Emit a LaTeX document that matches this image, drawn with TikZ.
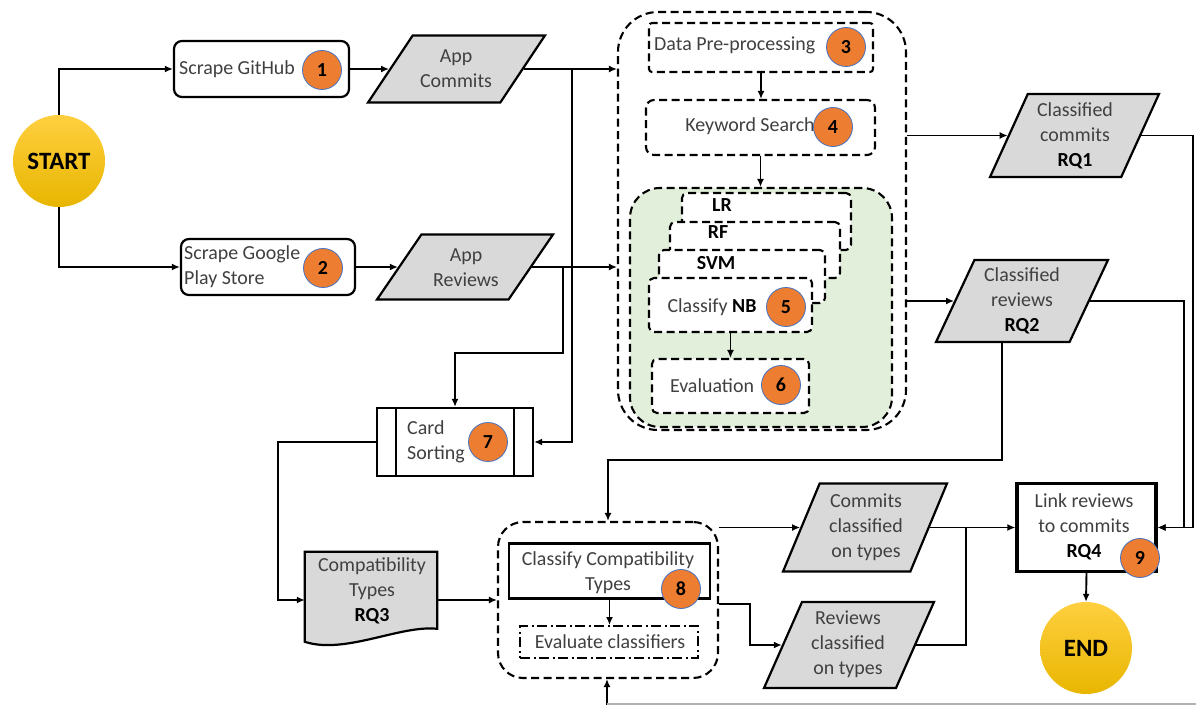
\documentclass[tikz,border=0pt]{standalone}
\usepackage{fontspec}
\setmainfont{Carlito}
\usetikzlibrary{arrows.meta,shapes.geometric,calc}
\definecolor{txt}{RGB}{64,64,64}
\definecolor{grayf}{RGB}{217,217,217}
\definecolor{greenf}{RGB}{226,239,218}
\definecolor{orangeb}{RGB}{237,125,49}
\definecolor{blueb}{RGB}{68,114,196}
\definecolor{goldtop}{RGB}{255,207,64}
\definecolor{goldbot}{RGB}{232,182,0}
\begin{document}
\begin{tikzpicture}[x=1bp,y=-1bp,
 lbl/.style={font=\fontsize{20}{25}\selectfont, text=txt, inner sep=0pt, align=center},
 blbl/.style={font=\fontsize{20}{25}\selectfont\bfseries, text=black, inner sep=0pt},
 arr/.style={line width=1.9bp, -{Latex[length=8bp,width=7bp]}},
 conn/.style={line width=1.9bp},
 procbox/.style={draw, line width=2.2bp, rounded corners=8bp, inner sep=0pt},
 dbox/.style={draw, line width=2.1bp, dash pattern=on 8bp off 4.5bp, inner sep=0pt},
 cardb/.style={dbox, fill=white, rounded corners=5bp},
 paraA/.style={trapezium, trapezium stretches=true, trapezium left angle=63, trapezium right angle=117, draw, fill=grayf, line width=2.2bp, inner sep=2bp},
 paraB/.style={trapezium, trapezium stretches=true, trapezium left angle=68, trapezium right angle=112, draw, fill=grayf, line width=2.2bp, inner sep=2bp},
 badge/.style={circle, fill=orangeb, draw=blueb, line width=0.8bp, minimum size=39bp, inner sep=0pt, font=\fontsize{20}{24}\selectfont\bfseries, text=black},
 term/.style={circle, minimum size=92bp, top color=goldtop, bottom color=goldbot, inner sep=0pt, font=\fontsize{25}{30}\selectfont\bfseries, text=black}
]
\fill[white] (0,0) rectangle (1196,705);
\useasboundingbox (0,0) rectangle (1196,705);

% start and scraping
\node[term] (start) at (59,161) {START};
\node[procbox, minimum width=175bp, minimum height=56bp] (gh) at (261.5,69) {};
\node[lbl, anchor=west] (ghl) at (179,69) {Scrape GitHub};
\node[badge] (b1) at (322,70) {1};
\node[paraA, minimum width=177bp, minimum height=67bp] (acom) at (456.5,69) {};
\node[lbl] (acoml) at (456,69) {App\\Commits};
\node[procbox, minimum width=174bp, minimum height=56bp] (gps) at (268,267) {};
\node[lbl, anchor=west, align=left] (gpsl) at (184,267) {Scrape Google\\Play Store};
\node[badge] (b2) at (323,268) {2};
\node[paraA, minimum width=176bp, minimum height=65bp] (arev) at (465,267) {};
\node[lbl] (arevl) at (466,268) {App\\Reviews};

% processing block
\node[dbox, rounded corners=40bp, minimum width=288bp, minimum height=418bp] (prep) at (762,221) {};
\node[dbox, rounded corners=3bp, minimum width=224bp, minimum height=49bp] (dp) at (761,47.5) {};
\node[lbl, anchor=west] (dpl) at (654,45) {Data Pre-processing};
\node[badge] (b3) at (846,47) {3};
\node[dbox, rounded corners=8bp, minimum width=229bp, minimum height=55bp] (kw) at (760.5,127.5) {};
\node[lbl] (kwl) at (750,126) {Keyword Search};
\node[badge] (b4) at (833,127) {4};
\node[dbox, fill=greenf, rounded corners=30bp, minimum width=262bp, minimum height=239bp] (grn) at (761,307.5) {};
\node[cardb, minimum width=169bp, minimum height=57bp] (lr) at (766.5,221.5) {};
\node[blbl] (lrl) at (722,205) {LR};
\node[cardb, minimum width=170bp, minimum height=56bp] (rf) at (755,250) {};
\node[blbl] (rfl) at (718,232) {RF};
\node[cardb, minimum width=166bp, minimum height=53bp] (svm) at (742,276.5) {};
\node[blbl] (svml) at (716,263) {SVM};
\node[cardb, minimum width=163bp, minimum height=54bp] (nb) at (730.5,305) {};
\node[lbl] (nbl) at (712,307) {Classify \textbf{\color{black}NB}};
\node[badge] (b5) at (786,307) {5};
\node[cardb, minimum width=157bp, minimum height=54bp] (ev) at (730.5,386) {};
\node[lbl] (evl) at (712,386) {Evaluation};
\node[badge] (b6) at (781,385) {6};

% classified outputs
\node[paraB, minimum width=169bp, minimum height=83bp] (c1) at (1074.5,135.5) {};
\node[lbl] (c1l) at (1075,136) {Classified\\commits\\\textbf{\color{black}RQ1}};
\node[paraB, minimum width=172bp, minimum height=82bp] (c2) at (1022,301) {};
\node[lbl] (c2l) at (1022,301) {Classified\\reviews\\\textbf{\color{black}RQ2}};

% card sorting
\node[draw, line width=2.2bp, minimum width=156bp, minimum height=68bp, inner sep=0pt] (card) at (455,442) {};
\draw[line width=2.2bp] ($(card.north west)+(20,0)$) -- ($(card.south west)+(20,0)$);
\draw[line width=2.2bp] ($(card.north east)+(-20,0)$) -- ($(card.south east)+(-20,0)$);
\node[lbl, anchor=west, align=left] (cardl) at (407,442) {Card\\Sorting};
\node[badge] (b7) at (488,442) {7};

% compatibility types document
\node[minimum width=132bp, minimum height=96bp, inner sep=0pt] (compat) at (371,600) {};
\draw[line width=2.2bp, fill=grayf] (compat.north west) -- (compat.north east)
  -- ($(compat.north east)+(0,77)$) .. controls ($(compat.north east)+(-37,73)$) and ($(compat.north west)+(40,103)$) .. ($(compat.north west)+(0,90)$) -- cycle;
\node[lbl] (compatl) at (372,591) {Compatibility\\Types\\\textbf{\color{black}RQ3}};

% classify compatibility block
\node[dbox, rounded corners=25bp, minimum width=220bp, minimum height=156bp] (b8box) at (608,600) {};
\node[draw, line width=2.2bp, fill=white, minimum width=201bp, minimum height=55bp, inner sep=0pt] (cc) at (609.5,571) {};
\node[lbl] (ccl) at (608,573) {Classify Compatibility\\Types};
\node[badge] (b8) at (681,589) {8};
\node[draw, line width=2bp, dash pattern=on 10bp off 3.5bp on 2bp off 3.5bp, minimum width=178bp, minimum height=32bp, inner sep=0pt] (ec) at (609,642) {};
\node[lbl] (ecl) at (610,642) {Evaluate classifiers};

% typed outputs
\node[paraB, minimum width=164bp, minimum height=88bp] (cct) at (865,527.5) {};
\node[lbl] (cctl) at (866,527) {Commits\\classified\\on types};
\node[paraB, minimum width=170bp, minimum height=86bp] (rct) at (849,645) {};
\node[lbl] (rctl) at (848,644) {Reviews\\classified\\on types};

% link and end
\node[draw, line width=3.2bp, minimum width=139bp, minimum height=88bp, inner sep=0pt] (link) at (1086.5,527.5) {};
\node[lbl] (linkl) at (1084,527) {Link reviews\\to commits\\\textbf{\color{black}RQ4}};
\node[badge] (b9) at (1140,558) {9};
\node[term] (endn) at (1086,648) {END};

% connectors
\draw[arr] (start.north) |- (gh.west);
\draw[arr] (start.south) |- (gps.west);
\draw[arr] (gh.east) -- (acom.west);
\draw[arr] (gps.east) -- (arev.west);
\draw[arr] (acom.east) -- (acom.east -| prep.west);
\draw[arr] (arev.east) -- (arev.east -| prep.west);
\coordinate (j1) at (572,69);
\coordinate (j2) at (563,267);
\coordinate (j2b) at (455,353);
\draw[arr] (j1) |- (card.east);
\draw[arr] (j2) |- (j2b) -- (card.north);
\draw[arr] (dp.south) -- (dp.south |- kw.north);
\draw[arr] (kw.south) -- (kw.south |- grn.north);
\draw[arr] (nb.south) -- (nb.south |- ev.north);
\draw[arr] (prep.east |- c1.west) -- (c1.west);
\draw[arr] (prep.east |- c2.west) -- (c2.west);
\coordinate (rx1) at (1193,0);
\coordinate (rx2) at (1184,0);
\draw[arr] (c1.east) -- (c1.east -| rx1) |- (link.east);
\draw[arr] (c2.east) -- (c2.east -| rx2) |- (link.east);
\coordinate (c2b) at ($(c2.bottom left corner)!0.5!(c2.bottom right corner)$);
\coordinate (j3) at (608,460);
\draw[arr] (c2b) |- (j3) -- (b8box.north);
\coordinate (kx) at (278,0);
\draw[arr] (card.west) -- (card.west -| kx) |- (compat.west);
\draw[arr] (compat.east) -- (b8box.west);
\draw[arr] (cc.south) -- (cc.south |- ec.north);
\coordinate (bot) at (607,705);
\draw[arr] (bot) -- (bot |- b8box.south);
\draw[gray!60, line width=1.2bp] (607,704) -- (1196,704);
\draw[arr] (b8box.east |- cct.west) -- (cct.west);
\coordinate (k1) at (750,604);
\draw[arr] (k1 -| b8box.east) -- (k1) |- (rct.west);
\draw[arr] (cct.east) -- (link.west);
\coordinate (k2) at (966,527.5);
\draw[conn] (rct.east) -| (k2);
\draw[arr] (link.south) -- (endn.north);
\end{tikzpicture}
\end{document}
